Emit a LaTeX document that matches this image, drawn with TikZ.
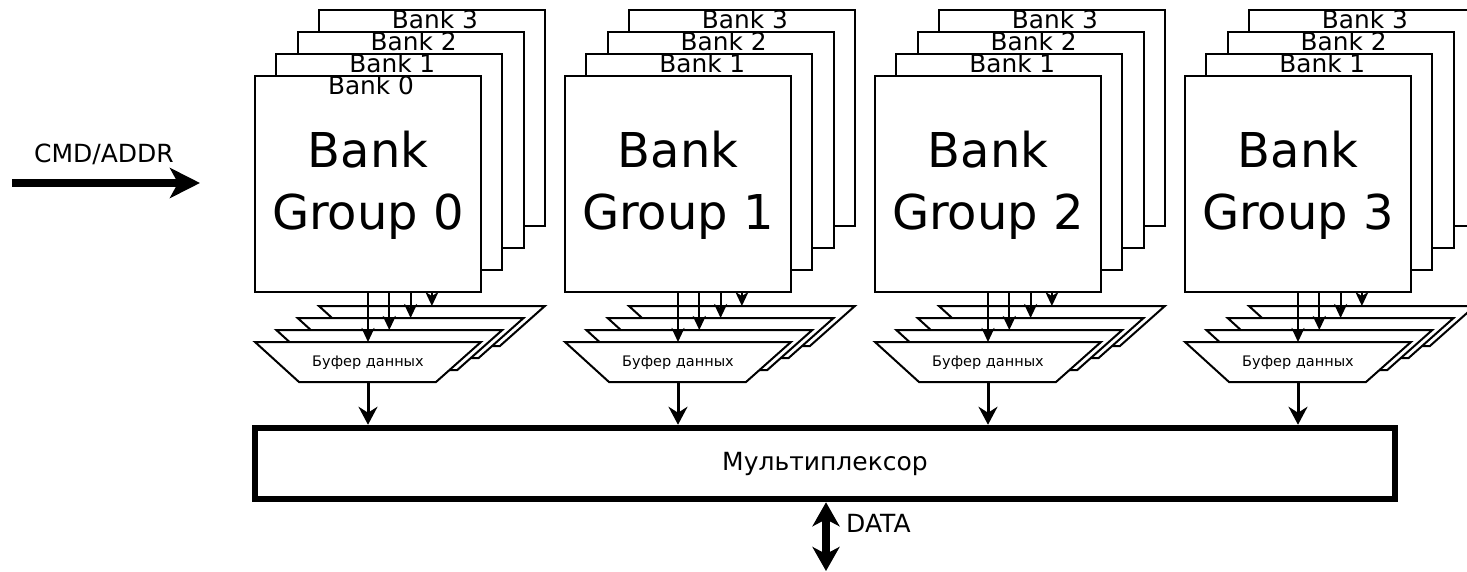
\documentclass[tikz,border=0pt]{standalone}
\usepackage{fontspec}
\setmainfont{DejaVu Sans}
\usetikzlibrary{arrows.meta,calc}
\tikzset{
  bankbox/.style={draw,line width=2pt,fill=white,minimum width=226pt,minimum height=216pt,inner sep=0pt},
  banklbl/.style={font=\fontsize{24.8}{28}\selectfont,anchor=base,inner sep=0pt},
  bigtxt/.style={font=\fontsize{48}{62}\selectfont,align=center,inner sep=0pt},
  bufpoly/.style={draw,line width=2pt,fill=white},
  buftxt/.style={font=\fontsize{14.5}{17}\selectfont,inner sep=0pt},
  smallarr/.style={line width=2pt,-{Stealth[length=14pt,width=13pt,inset=4pt]}},
  midarr/.style={line width=3pt,-{Stealth[length=18pt,width=19pt,inset=6pt]}},
  bigarr/.style={line width=8pt,-{Stealth[length=30pt,width=30pt,inset=8pt]}},
  dataarr/.style={line width=8pt,{Stealth[length=24pt,width=27pt,inset=7pt]}-{Stealth[length=24pt,width=27pt,inset=7pt]}},
  muxbox/.style={draw,line width=6.5pt,minimum width=1140pt,minimum height=71pt,inner sep=0pt},
  lbl/.style={font=\fontsize{25}{29}\selectfont,inner sep=0pt},
}
\begin{document}
\begin{tikzpicture}[x=1pt,y=-1pt]
\useasboundingbox (0,0) rectangle (1467,572);
\clip (0,0) rectangle (1467,572);
\node[muxbox] (mux) at (825,463.5) {};
\node[lbl] (muxtxt) at (mux.center) {Мультиплексор};
\foreach \g in {0,1,2,3} {
  \pgfmathsetmacro\xo{255+310*\g}
  \foreach \k in {3,2,1,0} {
    \pgfmathsetmacro\bx{\xo+21.3*\k}
    \pgfmathsetmacro\by{342-12*\k}
    \draw[bufpoly] (\bx,\by) -- ++(226,0) -- ++(-45,40) -- ++(-137,0) -- cycle;
    \coordinate (bt\g\k) at (\bx+113,\by);
  }
  \node[buftxt] (btx\g) at (\xo+113,363) {Буфер данных};
  \coordinate (bb\g) at (\xo+113,382);
  \foreach \k in {3,2,1,0} {
    \node[bankbox] (b\g\k) at (\xo+113+21.3*\k,184-22*\k) {};
    \ifnum\k>0
      \node[banklbl] (l\g\k) at ($(b\g\k.north)+(3,20)$) {Bank \k};
    \fi
  }
  \node[bigtxt] (gt\g) at ($(b\g0.center)+(0,1)$) {Bank\\Group \g};
  \foreach \k in {0,1,2,3} {
    \draw[smallarr] (b\g\k.south |- b\g0.south) -- (bt\g\k);
  }
  \draw[midarr] (bb\g) -- (bb\g |- mux.north);
}
\node[banklbl] (l00) at ($(b00.north)+(3,20)$) {Bank 0};
\coordinate (cmdA) at (12,183);
\coordinate (cmdB) at (200,183);
\draw[bigarr] (cmdA) -- (cmdB);
\node[lbl,anchor=base] (cmdtxt) at (104,163) {CMD/ADDR};
\coordinate (dataend) at (826,571);
\draw[dataarr] (mux.south -| dataend) -- (dataend);
\node[lbl,anchor=base west] (datatxt) at (846,532) {DATA};
\end{tikzpicture}
\end{document}
